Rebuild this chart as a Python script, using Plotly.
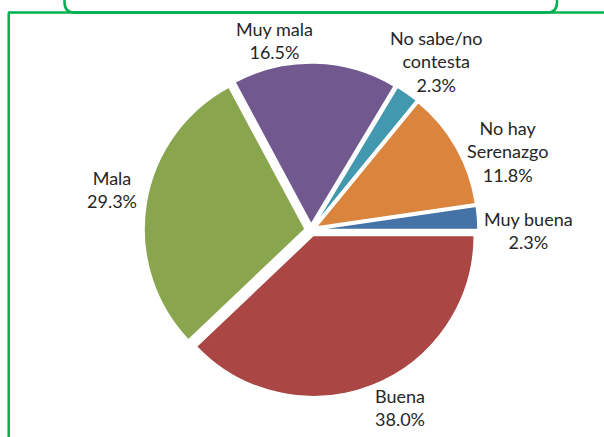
import plotly.graph_objects as go

# ---- data ----
categories = ["Muy buena", "Buena", "Mala", "Muy mala", "No sabe/no contesta", "No hay Serenazgo"]
values = [2.3, 38.0, 29.3, 16.5, 2.3, 11.8]
label_text = ["Muy buena", "Buena", "Mala", "Muy mala", "No sabe/no<br>contesta", "No hay<br>Serenazgo"]
colors = ["#4572A7", "#AA4643", "#89A54E", "#71588F", "#4198AF", "#DB843D"]

# ---- layout constants (pixels) ----
W, H = 604, 437
green = "#00B050"
text_color = "#262626"
label_px_x = [528, 400, 112, 274, 436, 507]
label_px_y = [230, 407, 190, 40, 61, 151]

fig = go.Figure(go.Pie(
    labels=categories,
    values=values,
    sort=False,
    direction="clockwise",
    rotation=81.7,
    pull=[0.037] * len(values),
    marker=dict(colors=colors, line=dict(color="white", width=1.5)),
    textinfo="none",
    automargin=False,
    domain=dict(x=[0.2384, 0.7914], y=[0.0915, 0.8558]),
    showlegend=False,
    hoverinfo="label+value",
))

annotations = []
for t, v, px, py in zip(label_text, values, label_px_x, label_px_y):
    annotations.append(dict(
        text=f"{t}<br>{v:.1f}%", x=px / W, y=1 - py / H, xref="paper", yref="paper",
        xanchor="center", yanchor="middle", showarrow=False, align="center",
        font=dict(family="Lato", size=18, color=text_color),
    ))

yl = 1 - 12.5 / H
r = 10
xl, xr = 64.5, 557.0
shapes = [
    dict(type="line", xref="paper", yref="paper", x0=8.7 / W, x1=8.7 / W, y0=0, y1=yl,
         line=dict(color=green, width=2.5)),
    dict(type="line", xref="paper", yref="paper", x0=8 / W, x1=1, y0=yl, y1=yl,
         line=dict(color=green, width=2.5)),
    dict(type="path", xref="paper", yref="paper",
         path=(f"M {xl / W} 1 L {xl / W} {1 - (12.5 - r) / H} "
               f"Q {xl / W} {yl} {(xl + r) / W} {yl} "
               f"L {(xr - r) / W} {yl} "
               f"Q {xr / W} {yl} {xr / W} {1 - (12.5 - r) / H} L {xr / W} 1"),
         line=dict(color=green, width=2.5)),
]

fig.update_layout(
    width=W, height=H,
    margin=dict(l=0, r=0, t=0, b=0, pad=0, autoexpand=False),
    paper_bgcolor="white",
    plot_bgcolor="white",
    shapes=shapes,
    annotations=annotations,
    font=dict(family="Lato", color=text_color),
)

fig.write_html("out.html", config={"displayModeBar": False},
               post_script="document.body.style.margin='0';")
